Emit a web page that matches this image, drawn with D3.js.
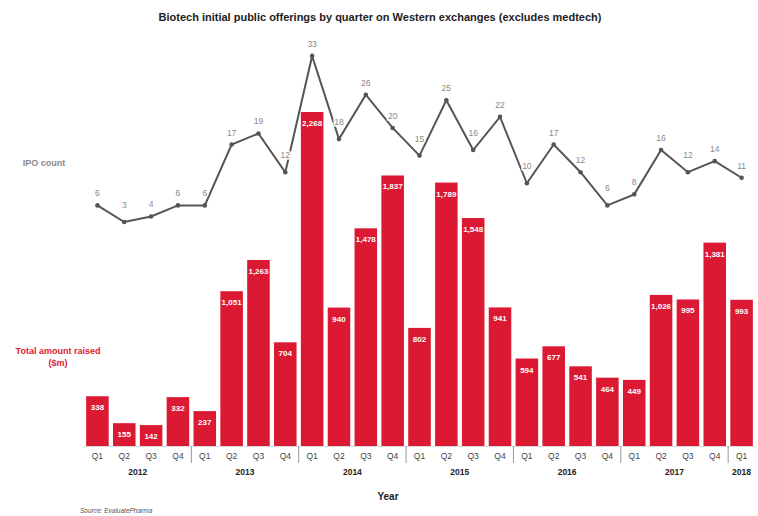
<!DOCTYPE html>
<html>
<head>
<meta charset="utf-8">
<script src="https://cdn.jsdelivr.net/npm/d3@7"></script>
<style>
  body { margin: 0; background: #fff; }
  svg { font-family: "Liberation Sans", Arial, sans-serif; }
</style>
</head>
<body>
<div id="chart"></div>
<script>
// Biotech IPOs by quarter: amount raised (bars) and IPO count (line)

var quarters = ['Q1','Q2','Q3','Q4','Q1','Q2','Q3','Q4','Q1','Q2','Q3','Q4',
  'Q1','Q2','Q3','Q4','Q1','Q2','Q3','Q4','Q1','Q2','Q3','Q4','Q1'];
var years = ['2012','2013','2014','2015','2016','2017','2018'];
var amountRaised = [338,155,142,332,237,1051,1263,704,2268,940,1478,1837,
  802,1789,1548,941,594,677,541,464,449,1026,995,1381,993];
var ipoCount = [6,3,4,6,6,17,19,12,33,18,26,20,15,25,16,22,10,17,12,6,8,16,12,14,11];

var width = 758, height = 516;
var baseY = 446;

var svg = d3.select('#chart').append('svg')
  .attr('width', width)
  .attr('height', height);

var idx = d3.range(amountRaised.length);

var x = d3.scaleBand()
  .domain(idx)
  .range([84, 755])
  .paddingInner(0.16)
  .paddingOuter(0.08);

// bar scale: 2,268 reaches ~y 112
var yBar = d3.scaleLinear()
  .domain([0, 2268])
  .range([baseY, 112]);

// line scale sits on top of the bars
var yLine = d3.scaleLinear()
  .domain([3, 33])
  .range([222, 56]);

// title
svg.append('text')
  .attr('x', 380).attr('y', 21)
  .attr('text-anchor', 'middle')
  .attr('font-size', 11).attr('font-weight', 'bold')
  .attr('fill', '#222')
  .text('Biotech initial public offerings by quarter on Western exchanges (excludes medtech)');

// bars
svg.selectAll('rect.bar')
  .data(amountRaised)
  .enter().append('rect')
    .attr('class', 'bar')
    .attr('x', function(d, i) { return x(i); })
    .attr('y', function(d) { return yBar(d); })
    .attr('width', x.bandwidth())
    .attr('height', function(d) { return baseY - yBar(d); })
    .attr('fill', '#dc1932');

svg.selectAll('text.barlabel')
  .data(amountRaised)
  .enter().append('text')
    .attr('class', 'barlabel')
    .attr('x', function(d, i) { return x(i) + x.bandwidth() / 2; })
    .attr('y', function(d) { return yBar(d) + 14; })
    .attr('text-anchor', 'middle')
    .attr('font-size', 8).attr('font-weight', 'bold')
    .attr('fill', '#fff')
    .text(function(d) { return d3.format(',')(d); });

// baseline
svg.append('line')
  .attr('x1', 84).attr('x2', 755)
  .attr('y1', baseY + 0.5).attr('y2', baseY + 0.5)
  .attr('stroke', '#ddd');

// IPO count line
var line = d3.line()
  .x(function(d, i) { return x(i) + x.bandwidth() / 2; })
  .y(function(d) { return yLine(d); });

svg.append('path')
  .datum(ipoCount)
  .attr('d', line)
  .attr('fill', 'none')
  .attr('stroke', '#555')
  .attr('stroke-width', 2);

svg.selectAll('circle.pt')
  .data(ipoCount)
  .enter().append('circle')
    .attr('class', 'pt')
    .attr('cx', function(d, i) { return x(i) + x.bandwidth() / 2; })
    .attr('cy', function(d) { return yLine(d); })
    .attr('r', 2.3)
    .attr('fill', '#555');

// valleys get their label lifted a bit more so it clears the line
function isValley(i) {
  var prev = i > 0 ? ipoCount[i - 1] : Infinity;
  var next = i < ipoCount.length - 1 ? ipoCount[i + 1] : Infinity;
  return ipoCount[i] < prev && ipoCount[i] < next && prev !== Infinity && next !== Infinity;
}

svg.selectAll('text.cnt')
  .data(ipoCount)
  .enter().append('text')
    .attr('class', 'cnt')
    .attr('x', function(d, i) { return x(i) + x.bandwidth() / 2; })
    .attr('y', function(d, i) { return yLine(d) - (isValley(i) ? 14 : 9); })
    .attr('text-anchor', 'middle')
    .attr('font-size', 8.5)
    .attr('fill', '#888')
    .attr('stroke', '#fff')
    .attr('stroke-width', 3)
    .attr('paint-order', 'stroke')
    .text(function(d) { return d; });

// quarter labels
svg.selectAll('text.q')
  .data(quarters)
  .enter().append('text')
    .attr('class', 'q')
    .attr('x', function(d, i) { return x(i) + x.bandwidth() / 2; })
    .attr('y', 459)
    .attr('text-anchor', 'middle')
    .attr('font-size', 8.5)
    .attr('fill', '#444')
    .text(function(d) { return d; });

// year separators, before each Q1 except the first
var step = x.step();
svg.selectAll('line.sep')
  .data(idx.filter(function(i) { return i > 0 && i % 4 === 0; }))
  .enter().append('line')
    .attr('class', 'sep')
    .attr('x1', function(i) { return x(i) - step * 0.08; })
    .attr('x2', function(i) { return x(i) - step * 0.08; })
    .attr('y1', baseY)
    .attr('y2', 463)
    .attr('stroke', '#999');

// year labels centered under their quarters
svg.selectAll('text.yr')
  .data(years)
  .enter().append('text')
    .attr('class', 'yr')
    .attr('x', function(d, j) {
      var first = j * 4;
      var last = Math.min(first + 3, amountRaised.length - 1);
      return (x(first) + x(last) + x.bandwidth()) / 2;
    })
    .attr('y', 475)
    .attr('text-anchor', 'middle')
    .attr('font-size', 8.5).attr('font-weight', 'bold')
    .attr('fill', '#222')
    .text(function(d) { return d; });

svg.append('text')
  .attr('x', 388).attr('y', 500)
  .attr('text-anchor', 'middle')
  .attr('font-size', 10).attr('font-weight', 'bold')
  .attr('fill', '#222')
  .text('Year');

// side labels
svg.append('text')
  .attr('x', 44).attr('y', 166)
  .attr('text-anchor', 'middle')
  .attr('font-size', 9).attr('font-weight', 'bold')
  .attr('fill', '#888')
  .text('IPO count');

svg.append('text')
  .attr('x', 58).attr('y', 354)
  .attr('text-anchor', 'middle')
  .attr('font-size', 9).attr('font-weight', 'bold')
  .attr('fill', '#dc1932')
  .text('Total amount raised');

svg.append('text')
  .attr('x', 58).attr('y', 366)
  .attr('text-anchor', 'middle')
  .attr('font-size', 9).attr('font-weight', 'bold')
  .attr('fill', '#dc1932')
  .text('($m)');

svg.append('text')
  .attr('x', 80).attr('y', 513)
  .attr('font-size', 6.5).attr('font-style', 'italic')
  .attr('fill', '#555')
  .text('Source: EvaluatePharma');
</script>
</body>
</html>
